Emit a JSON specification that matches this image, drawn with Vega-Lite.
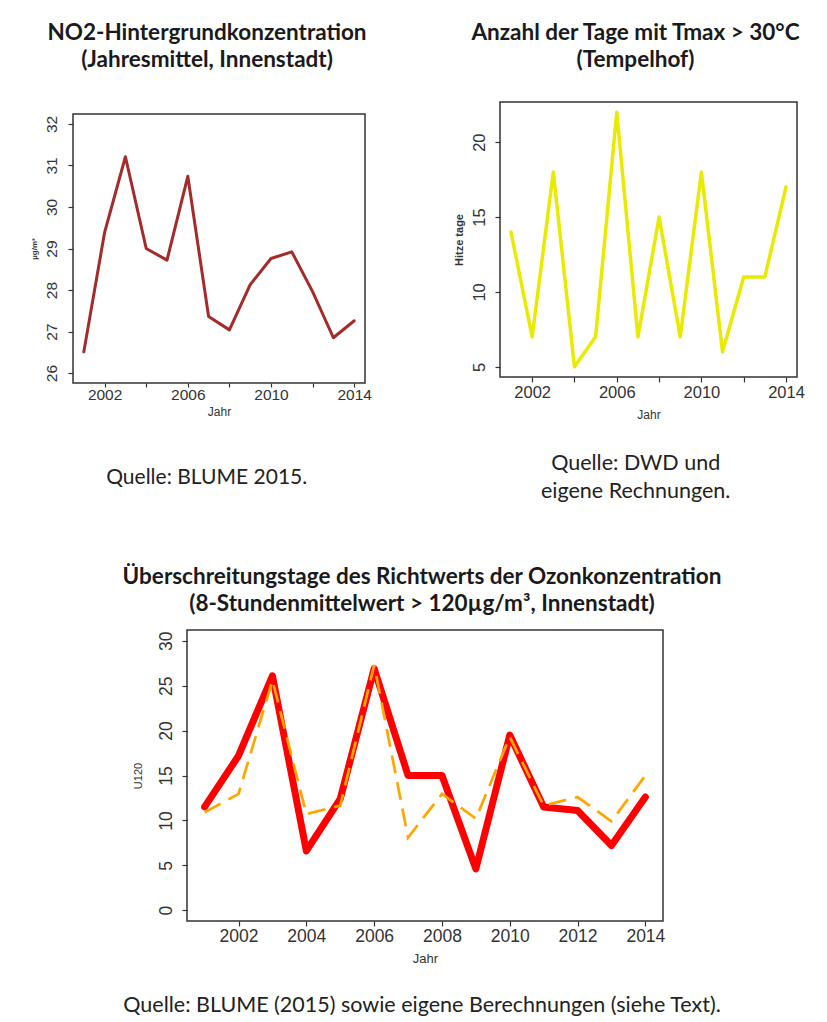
{
  "$schema": "https://vega.github.io/schema/vega-lite/v6.json",
  "background": "white",
  "padding": {"left": 29, "top": 21, "right": 0, "bottom": 0},
  "spacing": 61,
  "datasets": {
    "no2": [
      {"Jahr": 2001, "NO2": 26.51}, {"Jahr": 2002, "NO2": 29.39}, {"Jahr": 2003, "NO2": 31.21},
      {"Jahr": 2004, "NO2": 29.0}, {"Jahr": 2005, "NO2": 28.72}, {"Jahr": 2006, "NO2": 30.74},
      {"Jahr": 2007, "NO2": 27.36}, {"Jahr": 2008, "NO2": 27.04}, {"Jahr": 2009, "NO2": 28.13},
      {"Jahr": 2010, "NO2": 28.76}, {"Jahr": 2011, "NO2": 28.92}, {"Jahr": 2012, "NO2": 27.96},
      {"Jahr": 2013, "NO2": 26.85}, {"Jahr": 2014, "NO2": 27.26}
    ],
    "hitze": [
      {"Jahr": 2001, "Tage": 14}, {"Jahr": 2002, "Tage": 7}, {"Jahr": 2003, "Tage": 18},
      {"Jahr": 2004, "Tage": 5}, {"Jahr": 2005, "Tage": 7}, {"Jahr": 2006, "Tage": 22},
      {"Jahr": 2007, "Tage": 7}, {"Jahr": 2008, "Tage": 15}, {"Jahr": 2009, "Tage": 7},
      {"Jahr": 2010, "Tage": 18}, {"Jahr": 2011, "Tage": 6}, {"Jahr": 2012, "Tage": 11},
      {"Jahr": 2013, "Tage": 11}, {"Jahr": 2014, "Tage": 17}
    ],
    "ozon": [
      {"Jahr": 2001, "U120": 11.5, "Modell": 10.9}, {"Jahr": 2002, "U120": 17.2, "Modell": 12.95},
      {"Jahr": 2003, "U120": 26.1, "Modell": 25.6}, {"Jahr": 2004, "U120": 6.6, "Modell": 10.7},
      {"Jahr": 2005, "U120": 12.4, "Modell": 11.65}, {"Jahr": 2006, "U120": 26.9, "Modell": 27.3},
      {"Jahr": 2007, "U120": 15.0, "Modell": 8.1}, {"Jahr": 2008, "U120": 15.0, "Modell": 12.95},
      {"Jahr": 2009, "U120": 4.6, "Modell": 10.2}, {"Jahr": 2010, "U120": 19.5, "Modell": 19.3},
      {"Jahr": 2011, "U120": 11.5, "Modell": 11.65}, {"Jahr": 2012, "U120": 11.1, "Modell": 12.6},
      {"Jahr": 2013, "U120": 7.2, "Modell": 9.9}, {"Jahr": 2014, "U120": 12.6, "Modell": 15.0}
    ],
    "leer": [{"k": 1}]
  },
  "config": {
    "view": {"stroke": "#333333", "strokeWidth": 1.5},
    "axis": {
      "domain": false, "grid": false, "tickColor": "#333333", "tickWidth": 1.2, "tickSize": 5,
      "labelFont": "Liberation Sans", "labelColor": "#333333", "titleFont": "Liberation Sans",
      "titleColor": "#333333", "titleFontWeight": "normal", "labelPadding": 2
    },
    "title": {"font": "Lato", "fontWeight": "bold", "fontSize": 22.5, "color": "#1a1a1a", "lineHeight": 27}
  },
  "vconcat": [
    {
      "hconcat": [
        {
          "title": {"text": "Quelle: BLUME 2015.", "orient": "bottom", "anchor": "middle", "offset": 49, "dx": 6, "fontWeight": "normal", "fontSize": 21, "font": "Lato", "color": "#222222"},
          "spacing": 37,
          "vconcat": [
            {
              "width": 292, "height": 1,
              "view": {"stroke": null},
              "title": {"text": ["NO2-Hintergrundkonzentration", "(Jahresmittel, Innenstadt)"], "anchor": "middle", "frame": "group", "dx": -12, "offset": 4},
              "data": {"name": "leer"},
              "mark": {"type": "point", "opacity": 0, "size": 1},
              "encoding": {}
            },
            {
              "width": 292, "height": 269,
              "data": {"name": "no2"},
              "mark": {"type": "line", "color": "#a52a2a", "strokeWidth": 3, "strokeJoin": "round", "strokeCap": "round"},
              "encoding": {
                "x": {"field": "Jahr", "type": "quantitative",
                  "scale": {"domain": [2000.48, 2014.52], "nice": false, "zero": false},
                  "axis": {"values": [2002, 2004, 2006, 2008, 2010, 2012, 2014], "format": "d", "labelExpr": "datum.value % 4 == 2 ? datum.label : ''", "labelFontSize": 15.5, "tickSize": 4, "labelPadding": 0, "title": "Jahr", "titleFontSize": 12, "titlePadding": 4}},
                "y": {"field": "NO2", "type": "quantitative",
                  "scale": {"domain": [25.76, 32.24], "nice": false, "zero": false},
                  "axis": {"values": [26, 27, 28, 29, 30, 31, 32], "labelAngle": 270, "labelAlign": "center", "labelBaseline": "bottom", "labelPadding": 9, "labelFontSize": 15.5, "title": "µg/m³", "titleFontSize": 8, "titleFontWeight": "bold", "titlePadding": 6}}
              }
            }
          ]
        },
        {
          "title": {"text": ["Quelle: DWD und", "eigene Rechnungen."], "orient": "bottom", "anchor": "middle", "offset": 32, "dx": 7, "fontWeight": "normal", "fontSize": 21.5, "font": "Lato", "color": "#222222", "lineHeight": 28},
          "spacing": 25,
          "vconcat": [
            {
              "width": 297, "height": 1,
              "view": {"stroke": null},
              "title": {"text": ["Anzahl der Tage mit Tmax > 30°C", "(Tempelhof)"], "anchor": "middle", "frame": "group", "dx": -13, "offset": 4},
              "data": {"name": "leer"},
              "mark": {"type": "point", "opacity": 0, "size": 1},
              "encoding": {}
            },
            {
              "width": 297, "height": 275,
              "data": {"name": "hitze"},
              "mark": {"type": "line", "color": "#eaea00", "strokeWidth": 3.5, "strokeJoin": "round", "strokeCap": "round"},
              "encoding": {
                "x": {"field": "Jahr", "type": "quantitative",
                  "scale": {"domain": [2000.48, 2014.52], "nice": false, "zero": false},
                  "axis": {"values": [2002, 2004, 2006, 2008, 2010, 2012, 2014], "format": "d", "labelExpr": "datum.value % 4 == 2 ? datum.label : ''", "labelFontSize": 16.5, "title": "Jahr", "titleFontSize": 12, "titlePadding": 9}},
                "y": {"field": "Tage", "type": "quantitative",
                  "scale": {"domain": [4.32, 22.68], "nice": false, "zero": false},
                  "axis": {"values": [5, 10, 15, 20], "labelAngle": 270, "labelAlign": "center", "labelBaseline": "bottom", "labelPadding": 8, "labelFontSize": 16.5, "title": "Hitze tage", "titleFontSize": 11, "titleFontWeight": "bold", "titlePadding": 7}}
              }
            }
          ]
        }
      ],
      "spacing": 79
    },
    {
      "hconcat": [
        {
          "width": 47, "height": 1,
          "view": {"stroke": null},
          "data": {"name": "leer"},
          "mark": {"type": "point", "opacity": 0, "size": 1},
          "encoding": {}
        },
        {
          "title": {"text": "Quelle: BLUME (2015) sowie eigene Berechnungen  (siehe Text).", "orient": "bottom", "anchor": "middle", "offset": 29, "fontWeight": "normal", "fontSize": 21.5, "font": "Lato", "color": "#222222"},
          "vconcat": [
            {
              "width": 476, "height": 291,
              "title": {"text": ["Überschreitungstage des Richtwerts der Ozonkonzentration", "(8-Stundenmittelwert > 120µg/m³, Innenstadt)"], "anchor": "middle", "frame": "group", "dx": -3, "offset": 15},
              "data": {"name": "ozon"},
              "layer": [
                {
                  "mark": {"type": "line", "color": "#ff0000", "strokeWidth": 7, "strokeJoin": "round", "strokeCap": "round"},
                  "encoding": {
                    "x": {"field": "Jahr", "type": "quantitative",
                      "scale": {"domain": [2000.48, 2014.52], "nice": false, "zero": false},
                      "axis": {"values": [2002, 2004, 2006, 2008, 2010, 2012, 2014], "format": "d", "labelFontSize": 17.5, "labelPadding": 1, "title": "Jahr", "titleFontSize": 13, "titlePadding": 8}},
                    "y": {"field": "U120", "type": "quantitative",
                      "scale": {"domain": [-1.2, 31.2], "nice": false, "zero": false},
                      "axis": {"values": [0, 5, 10, 15, 20, 25, 30], "labelAngle": 270, "labelAlign": "center", "labelBaseline": "bottom", "labelPadding": 7, "labelFontSize": 17.5, "title": "U120", "titleFontSize": 11, "titlePadding": 14}}
                  }
                },
                {
                  "mark": {"type": "line", "color": "#ffa500", "strokeWidth": 2.7, "strokeDash": [18, 9]},
                  "encoding": {
                    "x": {"field": "Jahr", "type": "quantitative"},
                    "y": {"field": "Modell", "type": "quantitative"}
                  }
                }
              ]
            }
          ]
        }
      ],
      "spacing": 0
    }
  ]
}
